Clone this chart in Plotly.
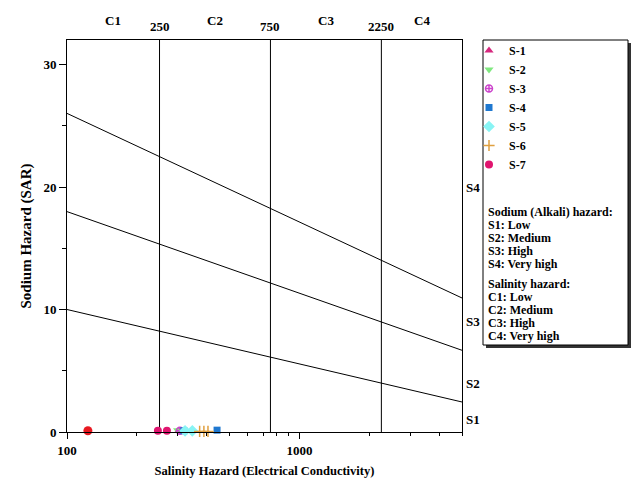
import plotly.graph_objects as go
import math

FONT = "Liberation Serif"

# ---- sample data (EC in µS/cm, SAR) ----
s1_ec = [302]; s1_sar = [0.1]
s2_ec = [299]; s2_sar = [0.15]
s3_ec = [306]; s3_sar = [0.1]
s4_ec = [318, 442]; s4_sar = [0.1, 0.15]
s5_ec = [322, 346]; s5_sar = [0.1, 0.1]
s6_ec = [372, 388, 404]; s6_sar = [0.05, 0.05, 0.05]
s7_ec = [246, 269]; s7_sar = [0.1, 0.1]
extra_ec = [123]; extra_sar = [0.1]

# ---- classification boundaries ----
bound_ec = [100, 5000]
s1s2_sar = [10.0, 2.45]
s2s3_sar = [17.99, 6.67]
s3s4_sar = [26.01, 10.94]
c_bounds = [250, 750, 2250]
c_span = [0, 32]

c_labels = ["C1", "C2", "C3", "C4"]
c_label_ec = [158, 433, 1299, 3354]
s_labels = ["S1", "S2", "S3", "S4"]
s_label_sar = [1.0, 4.0, 9.0, 20.0]

fig = go.Figure()

for ec in c_bounds:
    fig.add_trace(go.Scatter(x=[ec, ec], y=c_span, mode="lines",
                             line=dict(color="black", width=1),
                             showlegend=False, hoverinfo="skip"))
for ys in (s1s2_sar, s2s3_sar, s3s4_sar):
    fig.add_trace(go.Scatter(x=bound_ec, y=ys, mode="lines",
                             line=dict(color="black", width=1),
                             showlegend=False, hoverinfo="skip"))

series = [
    ("S-1", s1_ec, s1_sar, "triangle-up", "#d6287e", 8),
    ("S-2", s2_ec, s2_sar, "triangle-down", "#80e880", 8),
    ("S-3", s3_ec, s3_sar, "circle-cross-open", "#cc44cc", 7),
    ("S-4", s4_ec, s4_sar, "square", "#1f78d0", 7),
    ("S-5", s5_ec, s5_sar, "diamond", "#88f4f4", 9),
    ("S-6", s6_ec, s6_sar, "cross-thin-open", "#e0a040", 8),
    ("S-7", s7_ec, s7_sar, "circle", "#e0156f", 8),
]
fig.add_trace(go.Scatter(x=extra_ec, y=extra_sar, mode="markers",
                         marker=dict(symbol="circle", color="#e81820", size=9),
                         showlegend=False, cliponaxis=False))
for name, xs, ys, sym, col, sz in series:
    mk = dict(symbol=sym, color=col, size=sz)
    if "open" in sym:
        mk["line"] = dict(color=col, width=1.5)
    fig.add_trace(go.Scatter(x=xs, y=ys, mode="markers", name=f"<b>{name}</b>",
                             marker=mk, cliponaxis=False))

ann = []
for lab, ec in zip(c_labels, c_label_ec):
    ann.append(dict(x=math.log10(ec), y=1.0, xref="x", yref="paper", text=f"<b>{lab}</b>",
                    showarrow=False, yanchor="bottom", yshift=10,
                    font=dict(family=FONT, size=13, color="black")))
for ec in c_bounds:
    ann.append(dict(x=math.log10(ec), y=1.0, xref="x", yref="paper", text=f"<b>{ec}</b>",
                    showarrow=False, yanchor="bottom", yshift=4,
                    font=dict(family=FONT, size=13, color="black")))
for lab, s in zip(s_labels, s_label_sar):
    ann.append(dict(x=1.0, y=s, xref="paper", yref="y", text=f"<b>{lab}</b>",
                    showarrow=False, xanchor="left", xshift=2,
                    font=dict(family=FONT, size=13, color="black")))

info_lines = ["Sodium (Alkali) hazard:", "S1: Low", "S2: Medium", "S3: High", "S4: Very high",
              None, "Salinity hazard:", "C1: Low", "C2: Medium", "C3: High", "C4: Very high"]
py = 212
for line in info_lines:
    if line is None:
        py += 7
        continue
    ann.append(dict(x=(486 - 67) / 395, y=(432 - py) / 392, xref="paper", yref="paper",
                    text=f"<b>{line}</b>", showarrow=False, xanchor="left", yanchor="middle",
                    font=dict(family=FONT, size=12, color="black")))
    py += 13

shapes = [
    dict(type="rect", xref="paper", yref="paper", layer="below",
         x0=(486 - 67) / 395, x1=(631 - 67) / 395, y0=(432 - 348) / 392, y1=(432 - 43) / 392,
         fillcolor="#333333", line=dict(width=0)),
    dict(type="rect", xref="paper", yref="paper", layer="below",
         x0=(483 - 67) / 395, x1=(628 - 67) / 395, y0=(432 - 345) / 392, y1=(432 - 40) / 392,
         fillcolor="white", line=dict(color="black", width=1)),
]

fig.update_layout(
    width=643, height=487,
    margin=dict(l=67, r=181, t=40, b=55, autoexpand=False),
    paper_bgcolor="white", plot_bgcolor="white",
    font=dict(family=FONT, size=13, color="black"),
    showlegend=True,
    legend=dict(x=(469 - 67) / 395, y=(432 - 36) / 392, xanchor="left", yanchor="top",
                bgcolor="rgba(0,0,0,0)", borderwidth=0,
                font=dict(family=FONT, size=12, color="black"),
                itemwidth=30),
    annotations=ann,
    shapes=shapes,
    xaxis=dict(type="log", range=[2, math.log10(5000)], automargin=False,
               tickvals=[100, 1000], ticktext=["<b>100</b>", "<b>1000</b>"],
               tickfont=dict(family=FONT, size=13),
               ticks="outside", ticklen=6, tickcolor="black",
               minor=dict(tickvals=[200, 300, 400, 500, 600, 700, 800, 900, 2000, 3000, 4000, 5000],
                          ticks="outside", ticklen=3, tickcolor="black"),
               showline=True, linecolor="black", linewidth=1, mirror=True,
               showgrid=False, zeroline=False,
               title=dict(text="<b>Salinity Hazard (Electrical Conductivity)</b>",
                          font=dict(family=FONT, size=12.5), standoff=9)),
    yaxis=dict(range=[0, 32], tickvals=[0, 10, 20, 30], automargin=False,
               ticktext=["<b>0</b>", "<b>10</b>", "<b>20</b>", "<b>30</b>"],
               tickfont=dict(family=FONT, size=13),
               ticks="outside", ticklen=7, tickcolor="black",
               minor=dict(tickvals=[5, 15, 25], ticks="outside", ticklen=4, tickcolor="black"),
               showline=True, linecolor="black", linewidth=1, mirror=True,
               showgrid=False, zeroline=False,
               title=dict(text="<b>Sodium Hazard (SAR)</b>",
                          font=dict(family=FONT, size=15), standoff=8)),
)

fig.write_html("out.html", config={"displayModeBar": False},
               post_script="document.body.style.margin='0';")
